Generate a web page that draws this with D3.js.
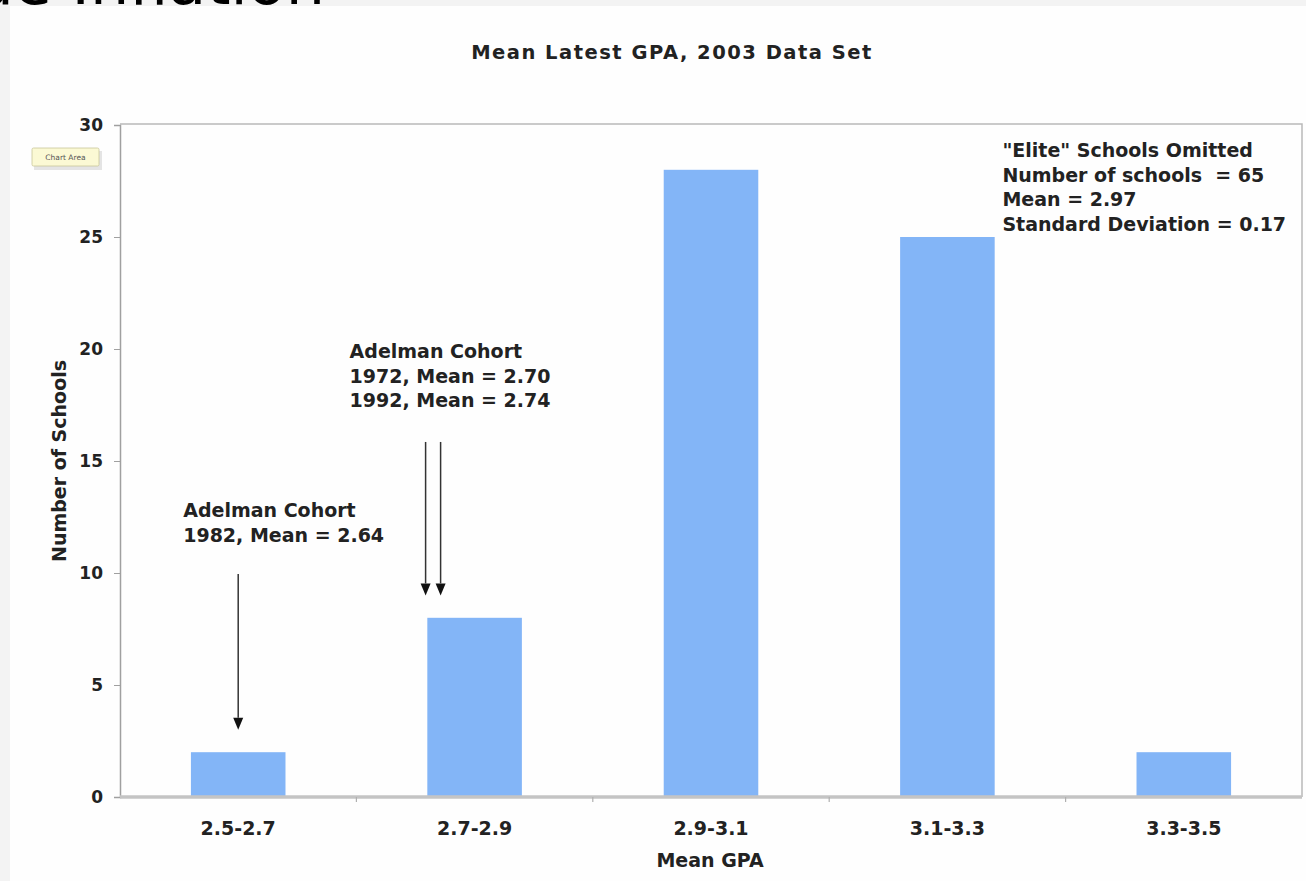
<!DOCTYPE html>
<html>
<head>
<meta charset="utf-8">
<script src="https://cdn.jsdelivr.net/npm/d3@7"></script>
<style>
  html, body { margin: 0; padding: 0; background: #f3f3f3; }
  svg { display: block; }
  text { font-family: "DejaVu Sans", Verdana, sans-serif; }
</style>
</head>
<body>
<script>
// ---- data ----
const categories = ["2.5-2.7", "2.7-2.9", "2.9-3.1", "3.1-3.3", "3.3-3.5"];
const counts = [2, 8, 28, 25, 2];
const yTicks = [0, 5, 10, 15, 20, 25, 30];
const chartTitle = "Mean Latest GPA, 2003 Data Set";
const xTitle = "Mean GPA";
const yTitle = "Number of Schools";
const statsLines = ["\"Elite\" Schools Omitted", "Number of schools  = 65", "Mean = 2.97", "Standard Deviation = 0.17"];
const cohortLines7292 = ["Adelman Cohort", "1972, Mean = 2.70", "1992, Mean = 2.74"];
const cohortLines82 = ["Adelman Cohort", "1982, Mean = 2.64"];

const W = 1306, H = 881;
const svg = d3.select("body").append("svg").attr("width", W).attr("height", H);

// page background / white panel
svg.append("rect").attr("x", 0).attr("y", 0).attr("width", W).attr("height", H).attr("fill", "#f3f3f3");
svg.append("rect").attr("x", 10).attr("y", 6).attr("width", W - 10).attr("height", H - 6).attr("fill", "#fefefe");

// cropped slide heading at very top
svg.append("text").attr("x", 325).attr("y", 4).attr("text-anchor", "end")
  .attr("font-family", "'Open Sans', sans-serif").attr("font-size", 62).attr("fill", "#000")
  .text("Grade Inflation");

// scales
const plot = { left: 120, right: 1302, top: 125, bottom: 797 };
const x = d3.scaleBand().domain(categories).range([plot.left, plot.right]).paddingInner(0.6).paddingOuter(0.3);
const y = d3.scaleLinear().domain([0, 30]).range([plot.bottom, plot.top]);

// plot frame (top & right)
svg.append("path")
  .attr("d", `M${plot.left},${plot.top - 1}H${plot.right}V${plot.bottom}`)
  .attr("fill", "none").attr("stroke", "#b9b9b9").attr("stroke-width", 1.5);

// bars
svg.append("g").selectAll("rect").data(counts).join("rect")
  .attr("x", (d, i) => x(categories[i]))
  .attr("y", d => y(d))
  .attr("width", x.bandwidth())
  .attr("height", d => y(0) - y(d))
  .attr("fill", "#83b5f7");

// y axis
const yAxis = svg.append("g").attr("transform", `translate(${plot.left},0)`)
  .call(d3.axisLeft(y).tickValues(yTicks).tickSize(6).tickPadding(11));
yAxis.select(".domain").attr("stroke", "#a0a0a0").attr("stroke-width", 1.5);
yAxis.selectAll(".tick line").attr("stroke", "#a0a0a0");
yAxis.selectAll(".tick text").attr("font-family", "'DejaVu Sans', sans-serif")
  .attr("font-weight", "bold").attr("font-size", 17).attr("fill", "#222");

// x axis (thick grey baseline, ticks at band boundaries)
const step = x.step();
const boundaries = categories.map(c => x(c) + x.bandwidth() / 2 + step / 2).slice(0, -1);
const xAxisG = svg.append("g");
xAxisG.append("line").attr("x1", plot.left).attr("x2", plot.right)
  .attr("y1", y(0)).attr("y2", y(0)).attr("stroke", "#c4c4c4").attr("stroke-width", 3.5);
xAxisG.selectAll("line.tk").data(boundaries).join("line").attr("class", "tk")
  .attr("x1", d => d).attr("x2", d => d).attr("y1", y(0)).attr("y2", y(0) + 5)
  .attr("stroke", "#b0b0b0").attr("stroke-width", 1.2);
xAxisG.selectAll("text").data(categories).join("text")
  .attr("x", d => x(d) + x.bandwidth() / 2).attr("y", y(0) + 38)
  .attr("text-anchor", "middle").attr("font-weight", "bold").attr("font-size", 19).attr("fill", "#222")
  .text(d => d);

// axis titles and chart title
svg.append("text").attr("x", (plot.left + plot.right) / 2 - 1).attr("y", 867)
  .attr("text-anchor", "middle").attr("font-weight", "bold").attr("font-size", 19).attr("fill", "#222")
  .text(xTitle);
svg.append("text").attr("transform", "translate(66,461) rotate(-90)")
  .attr("text-anchor", "middle").attr("font-weight", "bold").attr("font-size", 19).attr("fill", "#222")
  .text(yTitle);
svg.append("text").attr("x", 672).attr("y", 59)
  .attr("text-anchor", "middle").attr("font-weight", "bold").attr("font-size", 19.5).attr("fill", "#222")
  .attr("letter-spacing", 1.5)
  .text(chartTitle);

// annotation text blocks
function block(lines, x0, y0, dy) {
  const t = svg.append("text").attr("font-weight", "bold").attr("font-size", 19).attr("fill", "#222")
    .style("white-space", "pre");
  lines.forEach((l, i) => t.append("tspan").attr("x", x0).attr("y", y0 + i * dy).text(l));
}
const c3 = x(categories[3]) + x.bandwidth() / 2;
const c1 = x(categories[1]) + x.bandwidth() / 2;
const c0 = x(categories[0]) + x.bandwidth() / 2;
block(statsLines, c3 + 55, 157, 24.7);
block(cohortLines7292, c1 - 125, 358, 24.7);
block(cohortLines82, c0 - 55, 517, 24.5);

// arrows
const defs = svg.append("defs");
defs.append("marker").attr("id", "ah").attr("viewBox", "0 0 10 12").attr("refX", 5).attr("refY", 12)
  .attr("markerWidth", 10).attr("markerHeight", 12).attr("markerUnits", "userSpaceOnUse").attr("orient", "auto-start-reverse")
  .append("path").attr("d", "M0,0L10,0L5,12Z").attr("fill", "#111");
const arrows = [
  { x: c0, from: 9.95, to: 3.0 },
  { x: c1 - 49, from: 15.85, to: 9.0 },
  { x: c1 - 34, from: 15.85, to: 9.0 }
];
svg.append("g").selectAll("line").data(arrows).join("line")
  .attr("x1", d => d.x).attr("x2", d => d.x)
  .attr("y1", d => y(d.from)).attr("y2", d => y(d.to) - 12)
  .attr("stroke", "#333").attr("stroke-width", 1.5);
svg.append("g").selectAll("path").data(arrows).join("path")
  .attr("d", d => `M${d.x - 5},${y(d.to) - 12}L${d.x + 5},${y(d.to) - 12}L${d.x},${y(d.to)}Z`)
  .attr("fill", "#111");

// "Chart Area" tooltip
const tip = svg.append("g").attr("transform", "translate(32,148)");
tip.append("rect").attr("x", 2).attr("y", 3).attr("width", 68).attr("height", 19).attr("fill", "#d8d8d8").attr("opacity", 0.7);
tip.append("rect").attr("x", 0).attr("y", 0).attr("width", 67).attr("height", 18).attr("rx", 1.5)
  .attr("fill", "#fbf9d4").attr("stroke", "#c9c79a").attr("stroke-width", 0.8);
tip.append("text").attr("x", 33.5).attr("y", 12).attr("text-anchor", "middle")
  .attr("font-size", 7.5).attr("fill", "#555").text("Chart Area");
</script>
</body>
</html>
